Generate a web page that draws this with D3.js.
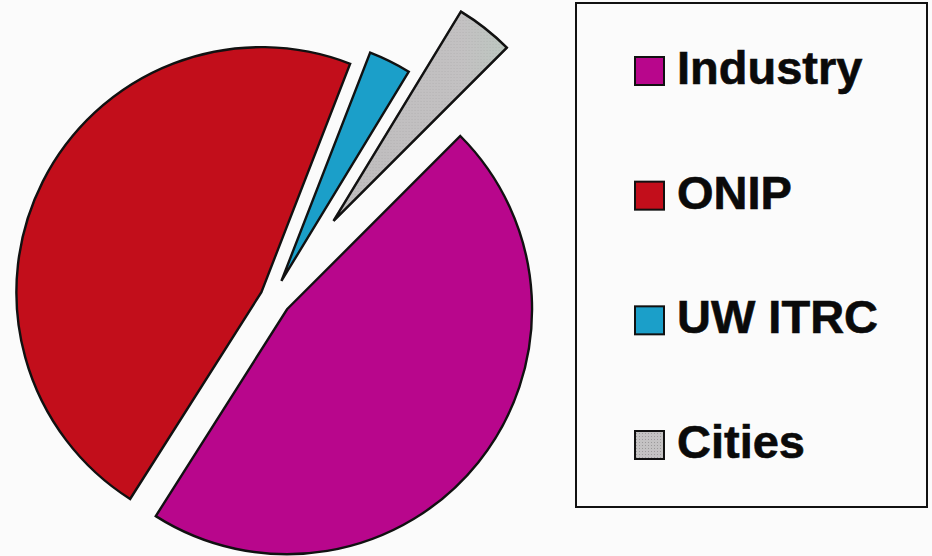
<!DOCTYPE html>
<html>
<head>
<meta charset="utf-8">
<script src="https://cdn.jsdelivr.net/npm/d3@7/dist/d3.min.js"></script>
<style>
  html, body { margin: 0; padding: 0; background: #fbfbfb; }
  svg { display: block; }
</style>
</head>
<body>
<svg id="chart" width="932" height="556"></svg>
<script>
// ---- data ----
const categories = ["Industry", "ONIP", "UW ITRC", "Cities"];
const shares = [46.5, 46.9, 2.8, 3.8];

// ---- styles / layout ----
const sliceColors = ["#b8068c", "#c20e1b", "#1b9fc9", "#bfbdbe"];
const explode = [18, 13, 19, 98];
const W = 932, H = 556;
const cx = 273, cy = 298, R = 245;

const svg = d3.select("#chart");
svg.append("rect").attr("width", W).attr("height", H).attr("fill", "#fbfbfb");

const defs = svg.append("defs");
const pat = defs.append("pattern").attr("id", "dots")
  .attr("width", 3).attr("height", 3).attr("patternUnits", "userSpaceOnUse");
pat.append("rect").attr("width", 3).attr("height", 3).attr("fill", "#c4c2c3");
pat.append("rect").attr("width", 1).attr("height", 1).attr("fill", "#9c9a9b");
const grad = defs.append("linearGradient").attr("id", "citiesGrad")
  .attr("x1", "0%").attr("x2", "100%").attr("y1", "0%").attr("y2", "0%");
grad.append("stop").attr("offset", "0%").attr("stop-color", "#bdbbbc");
grad.append("stop").attr("offset", "75%").attr("stop-color", "#c3c1c2");
grad.append("stop").attr("offset", "100%").attr("stop-color", "#b9cbbf");

const fills = ["#b8068c", "#c20e1b", "#1b9fc9", "url(#citiesGrad)"];

const pie = d3.pie().sort(null).value(d => d)
  .startAngle(Math.PI / 4).endAngle(Math.PI / 4 + 2 * Math.PI);
const arc = d3.arc().innerRadius(0).outerRadius(R);
const arcs = pie(shares);

const shift = (d, i) => {
  const a = (d.startAngle + d.endAngle) / 2;
  return `translate(${Math.sin(a) * explode[i]},${-Math.cos(a) * explode[i]})`;
};

const g = svg.append("g").attr("transform", `translate(${cx},${cy})`);
g.selectAll("path.slice").data(arcs).enter().append("path")
  .attr("class", "slice")
  .attr("transform", shift)
  .attr("d", arc)
  .attr("fill", (d, i) => fills[i])
  .attr("stroke", "#111")
  .attr("stroke-width", 2.4)
  .attr("stroke-linejoin", "miter");

// Cities dotted texture overlay
g.append("path").datum(arcs[3])
  .attr("transform", d => shift(d, 3))
  .attr("d", arc).attr("fill", "url(#dots)").attr("opacity", 0.35)
  .attr("stroke", "#111").attr("stroke-width", 2.4);

// ---- legend ----
const legend = svg.append("g");
legend.append("rect")
  .attr("x", 576).attr("y", 3).attr("width", 351).attr("height", 504)
  .attr("fill", "#fbfbfb").attr("stroke", "#111").attr("stroke-width", 2);

const rowY = d3.scalePoint().domain(categories).range([71, 445]);
const item = legend.selectAll("g.item").data(categories).enter().append("g")
  .attr("class", "item")
  .attr("transform", d => `translate(0,${rowY(d)})`);
item.append("rect")
  .attr("x", 635).attr("y", -14).attr("width", 29).attr("height", 28)
  .attr("fill", (d, i) => i === 3 ? "url(#dots)" : sliceColors[i])
  .attr("stroke", "#111").attr("stroke-width", 2);
item.append("text")
  .attr("x", 677).attr("y", 13)
  .attr("font-family", "'Liberation Sans', Arial, sans-serif")
  .attr("font-weight", "bold")
  .attr("font-size", 47)
  .attr("fill", "#0a0a0a")
  .attr("stroke", "#0a0a0a")
  .attr("stroke-width", 0.6)
  .text(d => d);
</script>
</body>
</html>
